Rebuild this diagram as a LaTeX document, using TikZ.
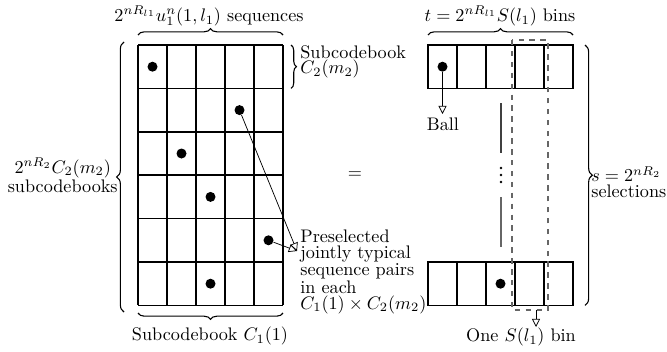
\documentclass[tikz,border=0pt]{standalone}
\usepackage{amsmath,amssymb}
\usepackage{tikz}
\usetikzlibrary{arrows.meta,positioning,calc,decorations.pathreplacing}

\begin{document}
\begin{tikzpicture}[x=0.55pt, y=-0.55pt,
    cellline/.style={thick},
    dotmark/.style={circle, fill, inner sep=0pt, minimum size=5.5pt},
    bracemark/.style={decorate, decoration={brace, amplitude=#1}, semithick},
    bracemark/.default=3.5pt,
    tiparrow/.style={thin, -{Triangle[open, length=4.5pt, width=4.5pt]}},
    lbl/.style={font=\fontsize{10}{8.5}\selectfont, inner sep=0pt}]
      \useasboundingbox (0,0) rectangle (667,351);
      % codebook grid
      \foreach \c in {0,...,5}
        \draw[cellline] ({138+29*\c},45) -- ({138+29*\c},305.4);
      \foreach \r in {0,...,6}
        \draw[cellline] (138,{45+43.4*\r}) -- (283,{45+43.4*\r});
      % bins
      \foreach \yt in {45,262} {
        \draw[cellline] (428,\yt) rectangle (573,{\yt+43.4});
        \foreach \c in {1,...,4}
          \draw[cellline] ({428+29*\c},\yt) -- ({428+29*\c},{\yt+43.4});
      }
      % selected pairs
      \node[dotmark] (d1) at (152.5,66.7) {};
      \node[dotmark] (d2) at (239.5,110.1) {};
      \node[dotmark] (d3) at (181.5,153.5) {};
      \node[dotmark] (d4) at (210.5,196.9) {};
      \node[dotmark] (d5) at (268.5,240.3) {};
      \node[dotmark] (d6) at (210.5,283.7) {};
      \node[dotmark] (b1) at (442.5,66.7) {};
      \node[dotmark] (b2) at (500.5,283.7) {};
      \coordinate (pre) at (297,251);
      \draw[tiparrow] (d2) -- (pre);
      \draw[tiparrow] (d5) -- (pre);
      \node[lbl, anchor=west, align=left] (prelbl) at (300,272)
        {Preselected\\jointly typical\\sequence pairs\\in each\\$C_1(1)\times C_2(m_2)$};
      % ball
      \coordinate (balltip) at (442.5,114);
      \draw[tiparrow] (b1) -- (balltip);
      \node[lbl] (balllbl) at (443,124) {Ball};
      % one bin
      \draw[dashed, black!60, semithick] (512,40) rectangle (548,310);
      \coordinate (binbot) at (536,310);
      \coordinate (bintip) at (536,327);
      \draw[tiparrow] (binbot) -- (bintip);
      \node[lbl] (onebinlbl) at (521,337) {One $S(l_1)$ bin};
      % selections in between
      \draw[semithick, black!75] (501,103) -- (501,153);
      \foreach \yy in {168,175,182}
        \fill (501,\yy) circle (0.7pt);
      \draw[semithick, black!60] (501,197) -- (501,247);
      \node[lbl] (eqsign) at (355,175) {$=$};
      % braces
      \draw[bracemark] (138,35) -- (283,35);
      \node[lbl] (seqlbl) at (209,16) {$2^{nR_{l1}}u_1^n(1,l_1)$ sequences};
      \draw[bracemark] (428,35) -- (573,35);
      \node[lbl] (binlbl) at (500,16) {$t=2^{nR_{l1}}S(l_1)$ bins};
      \draw[bracemark] (283,313) -- (138,313);
      \node[lbl] (c1lbl) at (210,336) {Subcodebook $C_1(1)$};
      \draw[bracemark=3pt] (291,45) -- (291,88.4);
      \node[lbl, anchor=west, align=left] (c2lbl) at (300,62) {Subcodebook\\$C_2(m_2)$};
      \draw[bracemark=4pt] (124,312) -- (124,42);
      \node[lbl, anchor=east, align=center] (cntlbl) at (118,175) {$2^{nR_2}C_2(m_2)$\\subcodebooks};
      \draw[bracemark=4pt] (585,45) -- (585,305.4);
      \node[lbl, anchor=west, align=left] (sellbl) at (591,182) {$s=2^{nR_2}$\\selections};
    \end{tikzpicture}
\end{document}
